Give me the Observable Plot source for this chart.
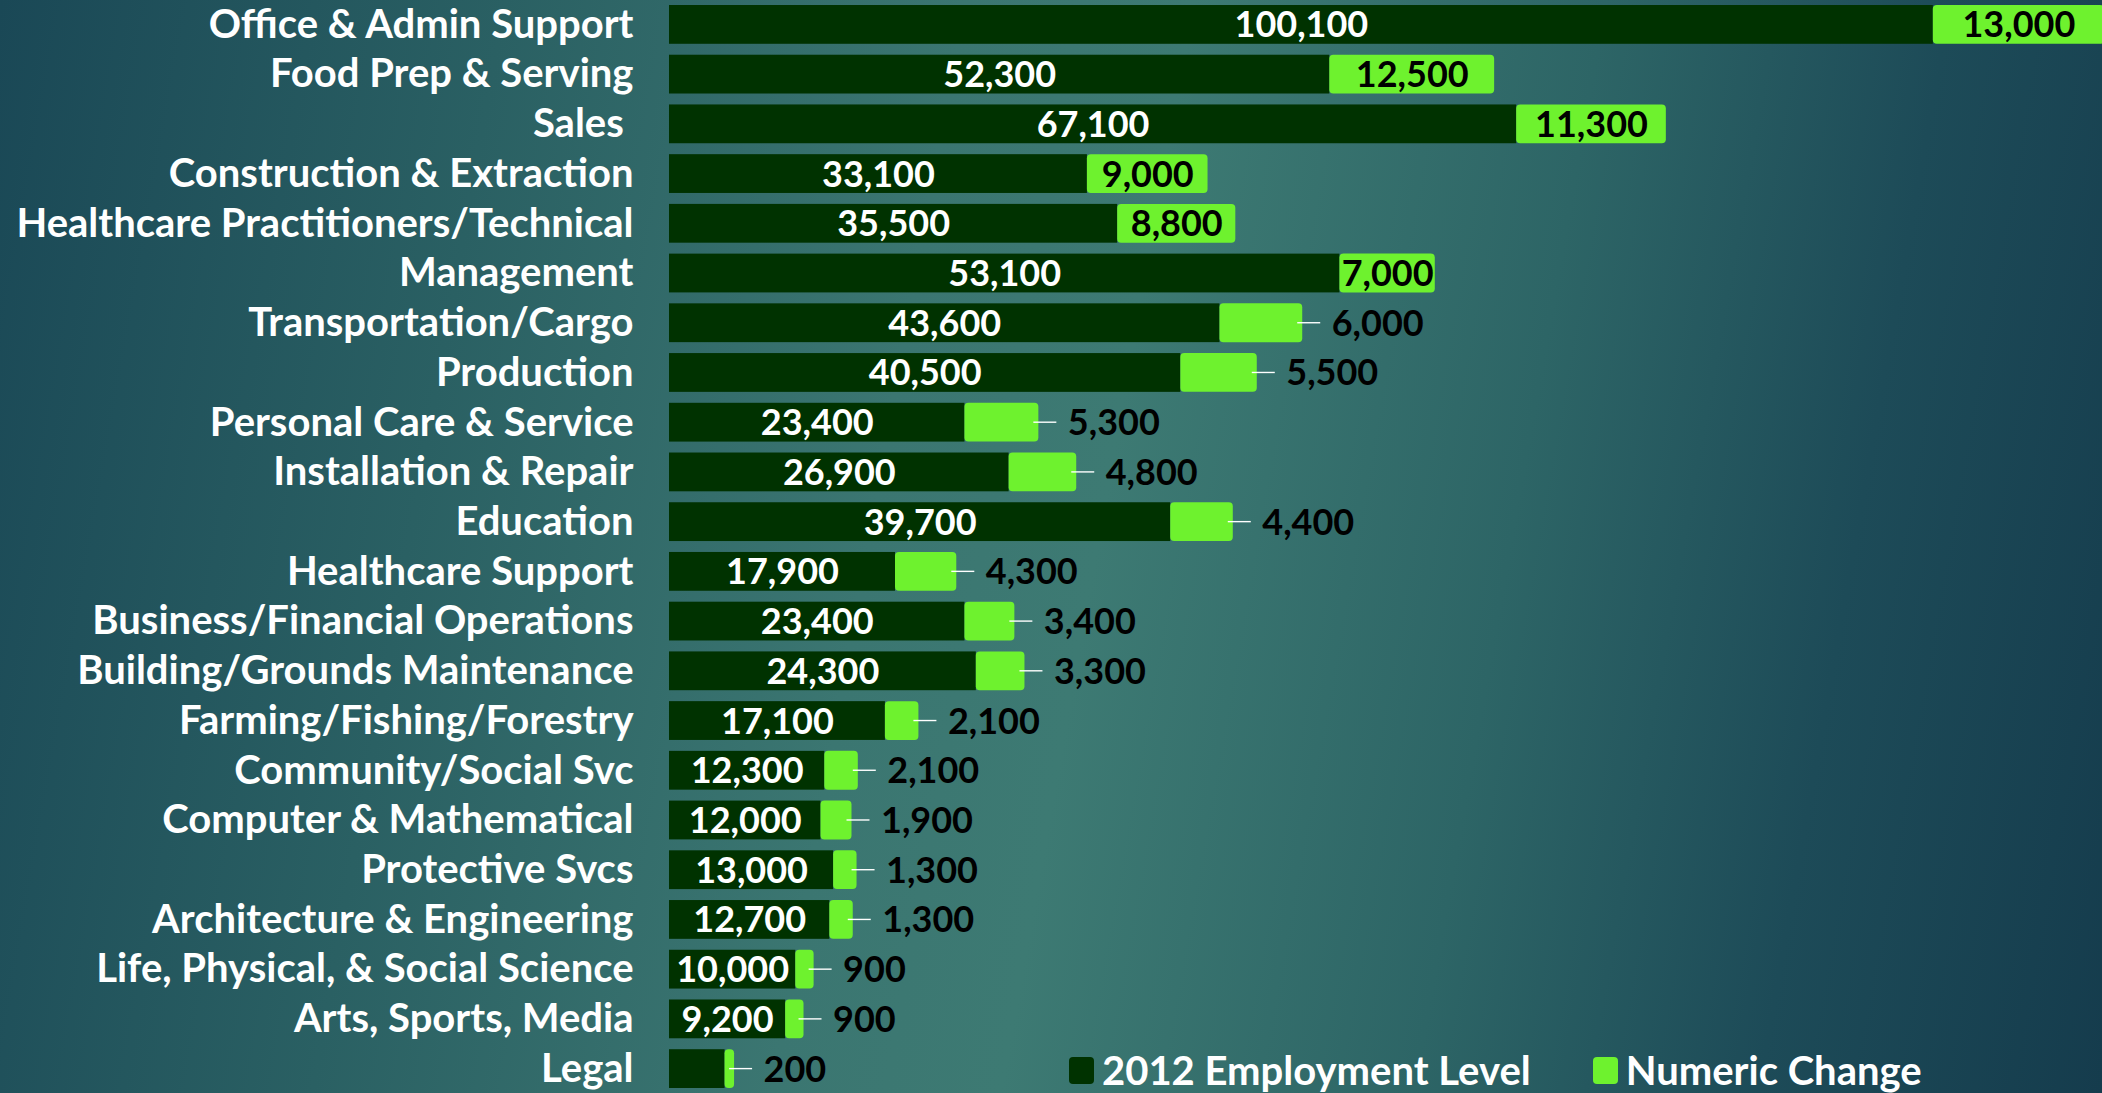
<!DOCTYPE html>
<html>
<head>
<meta charset="utf-8">
<script src="https://cdn.jsdelivr.net/npm/d3@7"></script>
<script src="https://cdn.jsdelivr.net/npm/@observablehq/plot@0.6"></script>
<style>
  html, body { margin: 0; padding: 0; }
  body {
    width: 2102px; height: 1093px; overflow: hidden; position: relative;
    background: linear-gradient(100deg, #1a4856 0%, #2a6063 22%, #3b7671 42%, #3d7a73 52%, #2d6566 70%, #1d4b58 85%, #153c4d 100%);
    font-family: Lato, "Open Sans", sans-serif;
  }
  #chart { position: absolute; left: 0; top: 0; }
  #legend { position: absolute; left: 1069px; top: 1050px; display: flex; align-items: center; color: white; font: 700 40px/1 Lato, sans-serif; white-space: nowrap; }
  #legend .item { display: flex; align-items: center; margin-right: 62px; }
  #legend .sw { width: 25px; height: 27px; border-radius: 4px; margin-right: 8px; }
</style>
</head>
<body>
<div id="chart"></div>
<div id="legend"></div>
<script>
const categories = [
  "Office & Admin Support", "Food Prep & Serving", "Sales\u00a0", "Construction & Extraction",
  "Healthcare Practitioners/Technical", "Management", "Transportation/Cargo", "Production",
  "Personal Care & Service", "Installation & Repair", "Education", "Healthcare Support",
  "Business/Financial Operations", "Building/Grounds Maintenance", "Farming/Fishing/Forestry",
  "Community/Social Svc", "Computer & Mathematical", "Protective Svcs", "Architecture & Engineering",
  "Life, Physical, & Social Science", "Arts, Sports, Media", "Legal"
];
const employment2012 = [100100, 52300, 67100, 33100, 35500, 53100, 43600, 40500, 23400, 26900, 39700, 17900, 23400, 24300, 17100, 12300, 12000, 13000, 12700, 10000, 9200, 4400];
const numericChange = [13000, 12500, 11300, 9000, 8800, 7000, 6000, 5500, 5300, 4800, 4400, 4300, 3400, 3300, 2100, 2100, 1900, 1300, 1300, 900, 900, 200];
const seriesNames = ["2012 Employment Level", "Numeric Change"];
const colors = ["#003200", "#6ef22e"];

const data = categories.map((c, i) => ({cat: c, emp: employment2012[i], chg: numericChange[i]}));
const fmt = d3.format(",");
const inside = d => d.chg >= 7000;

const chart = Plot.plot({
  width: 2102,
  height: 1093,
  marginLeft: 669,
  marginRight: 0,
  marginTop: 0,
  marginBottom: 0,
  style: {background: "transparent", color: "white", fontFamily: "Lato, sans-serif", fontSize: "40px", fontWeight: 700, overflow: "visible"},
  x: {domain: [0, 113500], axis: null},
  y: {domain: categories, range: [5, 1088], round: false, paddingInner: 0.22, paddingOuter: 0, tickSize: 0, tickPadding: 36, label: null},
  marks: [
    Plot.barX(data, {y: "cat", x1: 0, x2: "emp", fill: colors[0]}),
    Plot.barX(data, {y: "cat", x1: "emp", x2: d => d.emp + d.chg, fill: colors[1], insetRight: -7, rx: 4}),
    Plot.barX(data.filter(d => !inside(d)), {y: "cat", x1: d => d.emp + d.chg, x2: d => d.emp + d.chg, insetLeft: 2, insetRight: -25, insetTop: 18.7, insetBottom: 18.7, fill: "white"}),
    Plot.text(data.filter(d => d.emp >= 6000), {y: "cat", x: d => d.emp / 2, text: d => fmt(d.emp), fill: "white", fontSize: 36, fontWeight: 700, dy: 1}),
    Plot.text(data.filter(inside), {y: "cat", x: d => d.emp + d.chg / 2, dx: 3.5, text: d => fmt(d.chg), fill: "black", fontSize: 36, fontWeight: 700, dy: 1}),
    Plot.text(data.filter(d => !inside(d)), {y: "cat", x: d => d.emp + d.chg, dx: 36, textAnchor: "start", text: d => fmt(d.chg), fill: "black", fontSize: 36, fontWeight: 700, dy: 1})
  ]
});
document.getElementById("chart").appendChild(chart);

const legend = document.getElementById("legend");
seriesNames.forEach((n, i) => {
  const it = document.createElement("div");
  it.className = "item";
  const sw = document.createElement("span");
  sw.className = "sw";
  sw.style.background = colors[i];
  const t = document.createElement("span");
  t.textContent = n;
  it.appendChild(sw); it.appendChild(t);
  legend.appendChild(it);
});
</script>
</body>
</html>
